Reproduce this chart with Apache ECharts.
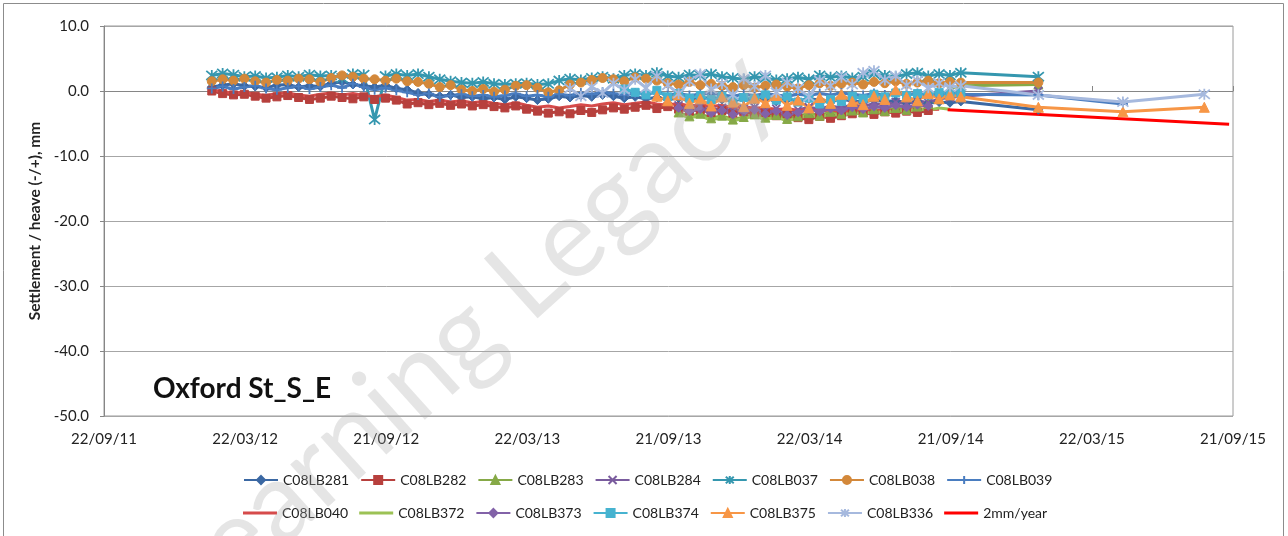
<!DOCTYPE html>
<html>
<head>
<meta charset="utf-8">
<script src="https://cdn.jsdelivr.net/npm/echarts@6/dist/echarts.min.js"></script>
<style>
  html, body { margin: 0; padding: 0; background: #fff; }
  #chart { width: 1288px; height: 536px; }
</style>
</head>
<body>
<div id="chart"></div>
<script>
// x ticks are every 182 days from 22/09/11
const tickLabels = ['22/09/11', '22/03/12', '21/09/12', '22/03/13', '21/09/13', '22/03/14', '21/09/14', '22/03/15', '21/09/15']

// fortnightly survey dates
const mainDates = [
  '2012-02-08', '2012-02-22', '2012-03-07', '2012-03-21', '2012-04-04', '2012-04-18', '2012-05-02', '2012-05-16', '2012-05-30', '2012-06-13',
  '2012-06-27', '2012-07-11', '2012-07-25', '2012-08-08', '2012-08-22', '2012-09-05', '2012-09-19', '2012-10-03', '2012-10-17', '2012-10-31',
  '2012-11-14', '2012-11-28', '2012-12-12', '2012-12-26', '2013-01-09', '2013-01-23', '2013-02-06', '2013-02-20', '2013-03-06', '2013-03-20',
  '2013-04-03', '2013-04-17', '2013-05-01', '2013-05-15', '2013-05-29', '2013-06-12', '2013-06-26', '2013-07-10', '2013-07-24', '2013-08-07',
  '2013-08-21', '2013-09-04', '2013-09-18', '2013-10-02', '2013-10-16', '2013-10-30', '2013-11-13', '2013-11-27', '2013-12-11', '2013-12-25',
  '2014-01-08', '2014-01-22', '2014-02-05', '2014-02-19', '2014-03-05', '2014-03-19', '2014-04-02', '2014-04-16', '2014-04-30', '2014-05-14',
  '2014-05-28', '2014-06-11', '2014-06-25', '2014-07-09', '2014-07-23', '2014-08-06', '2014-08-20', '2014-09-03', '2014-09-17', '2014-10-01'
]
// later, sparse readings
const tailDates = ['2015-01-09', '2015-04-28', '2015-08-11']

const vals281 = [
  0.6, 0.9, 1.1, 0.8, 0.7, 0.5, 0.9, 1.0, 0.6, 0.8,
  0.7, 1.2, 1.4, 1.0, 0.8, 0.6, 0.9, 0.4, 0.2, -0.3,
  -0.5, -0.8, -0.6, -1.0, -0.9, -1.2, -1.0, -1.3, -0.9, -1.1,
  -1.4, -1.2, -0.8, -1.0, -0.7, -0.9, -0.6, -0.8, -1.1, -0.9,
  -1.2, -1.0, -1.3, -1.1, -1.4, -1.2, -1.0, -1.3, -1.5, -1.2,
  -1.4, -1.1, -1.6, -1.3, -1.5, -1.2, -1.4, -1.6, -1.3, -1.5,
  -1.7, -1.4, -1.6, -1.5, -1.8, -1.6, -1.9, -1.7, -1.8, -1.6
]
const tail281 = [-2.9, null, null]

const vals282 = [
  0.0, -0.4, -0.6, -0.5, -0.8, -1.1, -0.9, -0.7, -1.0, -1.3,
  -1.1, -0.8, -1.0, -1.2, -0.9, -1.3, -1.1, -1.4, -2.0, -1.8,
  -2.1, -1.9, -2.2, -2.0, -2.3, -2.1, -2.4, -2.6, -2.3, -2.8,
  -3.1, -3.4, -3.2, -3.5, -3.0, -3.3, -2.9, -2.6, -2.8, -2.5,
  -2.2, -2.7, -2.4, -2.8, -3.1, -2.9, -3.3, -3.0, -3.4, -3.2,
  -3.6, -3.3, -3.8, -3.5, -4.1, -4.4, -3.9, -4.2, -3.8, -3.5,
  -3.3, -3.6, -3.2, -3.4, -3.1, -3.3, -3.0
]

const vals283 = [
  -3.3, -3.9, -3.5, -4.2, -3.8, -4.4, -4.0, -3.6, -4.1, -3.7,
  -4.3, -3.9, -3.4, -3.8, -3.2, -3.5, -3.0, -3.3, -2.8, -3.1,
  -2.6, -2.9, -2.4, -2.0, -1.2, 0.4, 0.8
]
const tail283 = [1.0, null, null]

const vals284 = [
  -2.2, -2.7, -2.4, -3.0, -2.6, -3.1, -2.8, -2.5, -3.0, -2.7,
  -3.2, -2.9, -2.5, -2.8, -2.3, -2.6, -2.1, -2.4, -1.9, -2.2,
  -1.7, -2.0, -1.5, -1.8, -1.2, -1.0, -0.8
]
const tail284 = [0.0, null, null]

const vals037 = [
  2.4, 2.7, 2.5, 2.2, 2.3, 2.0, 2.1, 2.4, 2.2, 2.5,
  2.3, 2.4, 2.0, 2.6, 2.5, -4.4, 2.3, 2.6, 2.4, 2.6,
  2.2, 1.8, 1.5, 1.3, 1.2, 1.4, 1.1, 1.0, 1.1, 1.2,
  1.0, 1.1, 1.6, 1.9, 1.7, 2.0, 2.2, 1.9, 2.4, 2.6,
  2.4, 2.8, 2.3, 2.1, 2.5, 2.4, 2.6, 2.2, 2.0, 1.8,
  2.2, 2.0, 1.7, 1.9, 2.1, 1.8, 2.4, 2.1, 2.3, 2.0,
  2.2, 2.6, 2.4, 2.2, 2.6, 2.8, 2.3, 2.6, 2.4, 2.8
]
const tail037 = [2.2, null, null]

const vals038 = [
  1.5, 1.8, 1.6, 1.9, 1.5, 1.3, 1.7, 1.6, 1.9, 1.8,
  1.4, 2.0, 2.4, 2.2, 1.9, 1.8, 1.6, 1.9, 1.5, 1.4,
  1.1, 0.6, 0.9, 0.2, 0.0, 0.3, -0.1, 0.2, 0.8, 0.9,
  0.5, -0.2, 0.1, 1.0, 1.3, 1.7, 2.0, 1.8, 1.5, 2.1,
  1.9, 1.6, 1.2, 1.0, 1.4, 0.9, 1.1, 0.8, 0.6, 0.9,
  0.5, 0.8, 1.0, 0.7, 0.4, 0.9, 1.2, 0.8, 1.1, 1.3,
  1.0, 1.4, 1.2, 1.5, 1.1, 1.3, 1.6, 1.2, 1.4, 1.3
]
const tail038 = [1.3, null, null]

const vals039 = [
  0.4, 0.7, 0.3, 0.6, 0.8, 0.4, 0.2, 0.5, 0.7, 0.3,
  0.6, 0.9, 0.5, 1.1, 0.6, 0.2, 0.5, 0.1, -0.2, -0.6,
  -0.4, -0.9, -0.7, -0.5, -0.8, -0.6, -0.9, -0.7, -0.4, -0.8,
  -0.6, -0.9, -0.5, -0.7, -0.3, -0.5, -0.2, -0.4, -0.6, -0.3,
  -0.5, -0.2, -0.6, -0.4, -0.7, -0.5, -0.3, -0.6, -0.8, -0.5,
  -0.7, -0.4, -0.6, -0.8, -0.5, -0.7, -0.4, -0.6, -0.3, -0.5,
  -0.7, -0.4, -0.6, -0.3, -0.5, -0.4, -0.6, -0.5, -0.3, -0.5
]
const tail039 = [-0.6, -2.0, null]

const vals040 = [
  0.2, -0.1, -0.3, -0.2, -0.5, -0.7, -0.4, -0.3, -0.6, -0.8,
  -0.5, -0.3, -0.6, -0.4, -0.7, -0.9, -0.6, -1.0, -1.4, -1.3,
  -1.6, -1.4, -1.7, -1.5, -1.8, -1.6, -1.9, -2.1, -1.8, -2.2,
  -2.5, -2.3, -2.6, -2.4, -2.1, -2.3, -2.0, -1.8, -2.1, -1.9,
  -1.7, -2.0, -2.2, -1.9, -2.3, -2.1, -2.4, -2.2, -2.6, -2.4,
  -2.7, -2.5, -2.9, -2.7, -3.0, -2.8, -3.1, -2.9, -3.2, -3.0,
  -2.8, -3.1, -2.9, -3.2, -3.0, -2.7, -2.9, -2.8
]

const vals372 = [
  -3.6, -4.1, -3.8, -4.5, -4.0, -4.6, -4.2, -3.9, -4.4, -4.0,
  -4.6, -4.2, -3.7, -4.1, -3.5, -3.8, -3.3, -3.6, -3.1, -3.4,
  -2.9, -3.2, -2.7, -3.0, -2.6, -2.8
]

const vals373 = [
  -2.6, -3.1, -2.8, -3.4, -3.0, -3.6, -3.2, -2.9, -3.5, -3.1,
  -3.7, -3.3, -2.9, -3.2, -2.7, -3.0, -2.5, -2.8, -2.4, -2.6,
  -2.2, -2.5, -2.1, -2.3
]

const vals374 = [
  0.3, -0.2, -0.6, 0.1, -0.9, -0.4, -1.1, -0.7, -1.3, -0.8,
  -1.5, -1.0, -1.2, -0.6, -1.4, -0.9, -1.7, -1.1, -2.0, -1.3,
  -1.6, -0.8, -1.2, -0.5, -0.9, -0.3, -0.7, -0.4, -0.6, -0.2,
  -0.5, -0.3
]

const vals375 = [
  -0.8, -1.5, -0.6, -1.9, -1.2, -2.3, -0.9, -1.7, -2.4, -1.1,
  -1.8, -0.7, -2.2, -1.4, -2.6, -1.0, -1.9, -0.5, -1.6, -2.1,
  -0.8, -1.3, 0.2, -0.9, -1.5, -0.4, -1.2, -0.6, -0.9
]
const tail375 = [-2.5, -3.2, -2.5]

const vals336 = [
  0.4, -0.8, 0.6, -0.3, 1.2, 0.2, 1.8, 0.5, 2.3, 0.9,
  -0.4, 1.5, 2.6, 0.3, 1.1, -0.6, 1.9, 0.7, 2.4, -0.2,
  1.3, 0.4, -0.9, 1.6, 0.8, 2.1, 1.0, 2.8, 3.1, 1.7,
  2.3, 0.9, 1.6, 0.5, 1.2, 0.6, 0.8
]
const tail336 = [-0.6, -1.7, -0.5]

const trendDates = ['2014-09-14', '2015-09-12']
const trendVals = [-2.9, -5.1]

const DAY0 = Date.UTC(2011, 8, 22)
function toDay (s) {
  return (Date.parse(s + 'T00:00:00Z') - DAY0) / 864e5
}
function points (values, firstDate, tail) {
  const start = mainDates.indexOf(firstDate)
  const out = values.map((v, i) => [toDay(mainDates[start + i]), v])
  ;(tail || []).forEach((v, i) => {
    if (v !== null) out.push([toDay(tailDates[i]), v])
  })
  return out
}

const X_MARK = 'path://M0,0L10,10M10,0L0,10'
const STAR = 'path://M0,0L10,10M10,0L0,10M5,-1L5,11'
const PLUS = 'path://M5,0L5,10M0,5L10,5'
const LINE_ICON = 'path://M0,0L34,0L34,3L0,3Z'
const FONT = 'Lato, "Noto Sans", sans-serif'

function line (name, data, color, symbol, size, stroked) {
  return {
    name,
    type: 'line',
    data,
    symbol,
    symbolSize: size,
    lineStyle: { color, width: 3 },
    itemStyle: stroked
      ? { color: 'rgba(0,0,0,0)', borderColor: color, borderWidth: 1.8 }
      : { color, borderColor: color, borderWidth: 1 },
    emphasis: { disabled: true }
  }
}

const series = [
  line('C08LB281', points(vals281, '2012-02-08', tail281), '#3B68A3', 'diamond', 9),
  line('C08LB282', points(vals282, '2012-02-08'), '#B7403D', 'rect', 8),
  line('C08LB283', points(vals283, '2013-10-02', tail283), '#86A947', 'triangle', 9),
  line('C08LB284', points(vals284, '2013-10-02', tail284), '#7A5C9E', X_MARK, 8, true),
  line('C08LB037', points(vals037, '2012-02-08', tail037), '#3597AF', STAR, 11, true),
  line('C08LB038', points(vals038, '2012-02-08', tail038), '#D3883A', 'circle', 9),
  line('C08LB039', points(vals039, '2012-02-08', tail039), '#4A7DC0', PLUS, 10, true),
  line('C08LB040', points(vals040, '2012-02-08'), '#D64B4B', 'none', 0),
  line('C08LB372', points(vals372, '2013-10-02'), '#9CC255', 'none', 0),
  line('C08LB373', points(vals373, '2013-10-02'), '#8262A8', 'diamond', 9),
  line('C08LB374', points(vals374, '2013-07-24'), '#46B3D0', 'rect', 8),
  line('C08LB375', points(vals375, '2013-09-04', tail375), '#F79646', 'triangle', 10),
  line('C08LB336', points(vals336, '2013-05-15', tail336), '#A6B9DE', STAR, 11, true),
  {
    name: '2mm/year',
    type: 'line',
    data: trendDates.map((d, i) => [toDay(d), trendVals[i]]),
    symbol: 'none',
    lineStyle: { color: '#FF0000', width: 3 },
    itemStyle: { color: '#FF0000' },
    emphasis: { disabled: true }
  }
]

// legend entries: series drawn without markers get a plain line icon
const legendItems = series.map(s => s.symbol === 'none'
  ? { name: s.name, icon: LINE_ICON, itemStyle: { borderWidth: 0 } }
  : { name: s.name })

const legendBase = {
  left: 243,
  padding: 0,
  itemWidth: 34,
  itemHeight: 10,
  itemGap: 11,
  textStyle: { fontSize: 14, color: '#222', fontFamily: FONT }
}

const chart = echarts.init(document.getElementById('chart'))
chart.setOption({
  animation: false,
  textStyle: { fontFamily: FONT },
  grid: {
    left: 104,
    right: 55,
    top: 26,
    bottom: 120,
    show: true,
    borderColor: '#9a9a9a',
    borderWidth: 1
  },
  legend: [
    Object.assign({ data: legendItems.slice(0, 7), top: 473 }, legendBase),
    Object.assign({ data: legendItems.slice(7), top: 506 }, legendBase)
  ],
  xAxis: {
    type: 'value',
    min: 0,
    max: 1456,
    interval: 182,
    axisLine: { lineStyle: { color: '#868686' } },
    axisTick: { inside: true, length: 5, lineStyle: { color: '#868686' } },
    splitLine: { show: false },
    axisLabel: {
      color: '#222',
      fontSize: 15,
      margin: 16,
      formatter: v => tickLabels[Math.round(v / 182)]
    }
  },
  yAxis: {
    type: 'value',
    min: -50,
    max: 10,
    interval: 10,
    name: 'Settlement / heave (-/+), mm',
    nameLocation: 'middle',
    nameGap: 59,
    nameTextStyle: { fontSize: 15.5, fontWeight: 'bold', color: '#222' },
    axisLine: { show: true, lineStyle: { color: '#868686' } },
    axisTick: { show: true, length: 4, lineStyle: { color: '#868686' } },
    splitLine: { lineStyle: { color: '#a6a6a6' } },
    axisLabel: {
      color: '#222',
      fontSize: 15,
      margin: 15,
      formatter: v => v.toFixed(1)
    }
  },
  graphic: [
    {
      type: 'rect',
      silent: true,
      shape: { x: 3.5, y: 3.5, width: 1280, height: 600 },
      style: { fill: 'none', stroke: '#8c8c8c', lineWidth: 1 }
    },
    {
      type: 'text',
      left: 153,
      top: 375,
      style: { text: 'Oxford St_S_E', font: 'bold 28px ' + FONT, fill: '#111' }
    },
    {
      type: 'text',
      x: 465,
      y: 335,
      rotation: 42 * Math.PI / 180,
      z: 100,
      silent: true,
      style: {
        text: 'Learning Legacy',
        font: '112px ' + FONT,
        fill: 'rgba(170,170,170,0.3)',
        align: 'center',
        verticalAlign: 'middle',
        textAlign: 'center',
        textVerticalAlign: 'middle'
      }
    }
  ],
  series
})
</script>
</body>
</html>
